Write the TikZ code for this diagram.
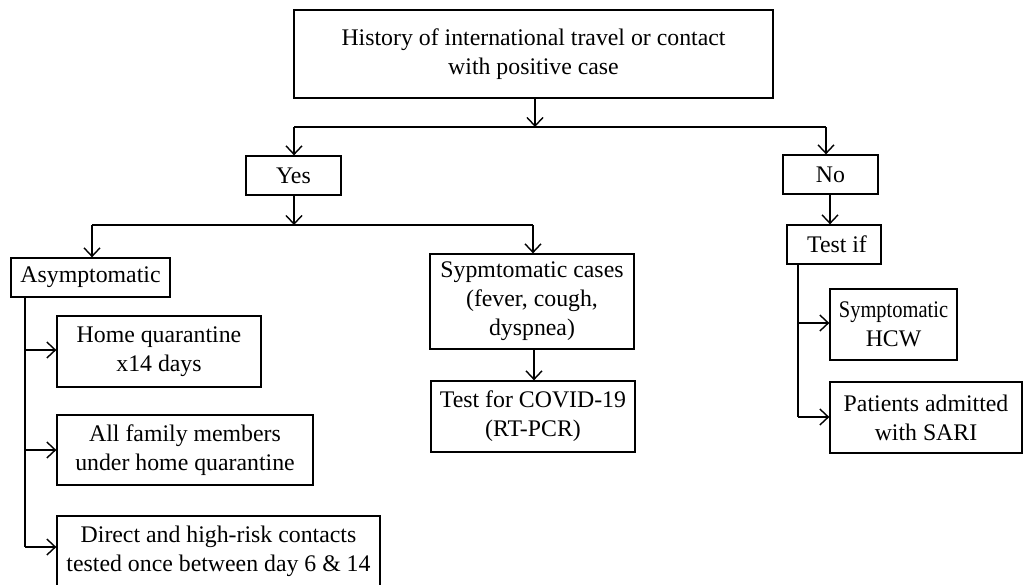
\documentclass[tikz,border=0pt]{standalone}
\usepackage{fontspec}
\setmainfont{Liberation Serif}
\usetikzlibrary{arrows.meta}
\begin{document}
\begin{tikzpicture}[x=1pt,y=-1pt,
  box/.style={draw=black, line width=1.3pt, inner sep=0pt, align=center,
    font=\fontsize{23.8}{29}\selectfont},
  conn/.style={line width=1.4pt},
  arr/.style={line width=1.4pt, -{Straight Barb[length=8.5pt,width=16pt,line width=1.4pt]}}
]
\useasboundingbox (0,0) rectangle (1024,584);
% boxes
\node[box, minimum width=479pt, minimum height=88pt] (top) at (533.5,54)
  {History of international travel or contact\\with positive case};
\node[box, minimum width=95pt, minimum height=39pt] (yes) at (293.5,175.5) {Yes};
\node[box, minimum width=95pt, minimum height=39pt] (no) at (830.5,174.5) {No};
\node[box, minimum width=159pt, minimum height=39pt] (asym) at (90.5,277.5) {Asymptomatic};
\node[box, minimum width=204pt, minimum height=95pt] (sym) at (532,301.5)
  {Sypmtomatic cases\\(fever, cough,\\dyspnea)};
\node[box, minimum width=204pt, minimum height=71pt] (test) at (533,416.5)
  {Test for COVID-19\\(RT-PCR)};
\node[box, minimum width=204pt, minimum height=71pt] (home) at (159,351.5)
  {Home quarantine\\x14 days};
\node[box, minimum width=256pt, minimum height=70pt] (family) at (185,450)
  {All family members\\under home quarantine};
\node[box, minimum width=323pt, minimum height=71pt] (direct) at (218.5,551.5)
  {Direct and high-risk contacts\\tested once between day 6 \& 14};
\node[box, minimum width=94pt, minimum height=39pt] (testif) at (834,244.5) {\hspace{6pt}Test if};
\node[box, minimum width=127pt, minimum height=71pt] (hcw) at (893.5,324.5)
  {\scalebox{0.86}[1]{Symptomatic}\\HCW};
\node[box, minimum width=192pt, minimum height=71pt] (pat) at (926,417.5)
  {Patients admitted\\with SARI};
% junction coordinates
\coordinate (j1) at (535,127);
\coordinate (j1l) at (294,127);
\coordinate (j1r) at (826,127);
\coordinate (j2) at (294,225);
\coordinate (j2l) at (92,225);
\coordinate (j2r) at (533,225);
\coordinate (aL) at (25,297);
\coordinate (aH) at (25,350);
\coordinate (aF) at (25,450);
\coordinate (aD) at (25,547);
\coordinate (tL) at (798,264);
\coordinate (tH) at (798,323);
\coordinate (tP) at (798,417);
% connectors
\draw[arr] (top.south -| j1) -- (j1);
\draw[conn] (j1l) -- (j1r);
\draw[arr] (j1l) -- (j1l |- yes.north);
\draw[arr] (j1r) -- (j1r |- no.north);
\draw[arr] (yes.south -| j2) -- (j2);
\draw[conn] (j2l) -- (j2r);
\draw[arr] (j2l) -- (j2l |- asym.north);
\draw[arr] (j2r) -- (j2r |- sym.north);
\draw[arr] (sym.south -| 534,0) -- (test.north -| 534,0);
\draw[arr] (no.south -| 830,0) -- (testif.north -| 830,0);
\draw[conn] (aL) -- (aD);
\draw[arr] (aH) -- (aH -| home.west);
\draw[arr] (aF) -- (aF -| family.west);
\draw[arr] (aD) -- (aD -| direct.west);
\draw[conn] (tL) -- (tP);
\draw[arr] (tH) -- (tH -| hcw.west);
\draw[arr] (tP) -- (tP -| pat.west);
\end{tikzpicture}
\end{document}
